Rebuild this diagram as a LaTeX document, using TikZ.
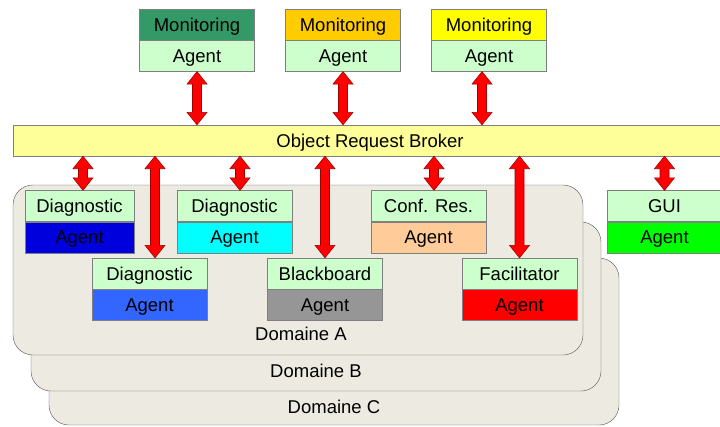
\documentclass[tikz,border=0pt]{standalone}
\usepackage{fontspec}
\setmainfont{Liberation Sans}
\usepackage{xcolor}
\usetikzlibrary{calc}

\definecolor{boxgray}{HTML}{7F7F7F}
\definecolor{lightgreen}{HTML}{CCFFCC}
\definecolor{monteal}{HTML}{339966}
\definecolor{monorange}{HTML}{FFCC00}
\definecolor{monyellow}{HTML}{FFFF00}
\definecolor{diagdark}{HTML}{0000DD}
\definecolor{diagcyan}{HTML}{00FFFF}
\definecolor{diagblue}{HTML}{3366FF}
\definecolor{boardgray}{HTML}{969696}
\definecolor{confpeach}{HTML}{FFCC99}
\definecolor{facilred}{HTML}{FF0000}
\definecolor{guigreen}{HTML}{00FF00}
\definecolor{orbyellow}{HTML}{FFFF99}
\definecolor{domainfill}{HTML}{EDEBE1}
\definecolor{domainline}{HTML}{555555}
\definecolor{arrowline}{HTML}{A00000}

\tikzset{
    hdr/.style={draw=boxgray, fill=lightgreen, minimum width=115, minimum height=31,
        inner sep=0pt, text height=13pt, text depth=0pt, font=\fontsize{18.5}{22}\selectfont},
    agt/.style={hdr, fill=#1, anchor=north},
    broker/.style={hdr, fill=orbyellow, minimum width=714},
    domainpanel/.style={draw=domainline, fill=domainfill, rounded corners=20},
    domlabel/.style={text height=13pt, text depth=0pt, font=\fontsize{18.5}{22}\selectfont},
    orbarrowstyle/.style={draw=arrowline, fill=red, line width=0.6pt, line join=miter}
}

% block arrow with two heads, #1 = end at the agent, #2 = end at the broker
\newcommand\orbarrow[2]{%
    \path (#1) coordinate (aa) (#2 -| aa) coordinate (bb);
    \filldraw[orbarrowstyle] (aa) -- ($(aa)!12.5pt!(bb)+(10,0)$) -- ($(aa)!12.5pt!(bb)+(4.5,0)$)
        -- ($(bb)!12.5pt!(aa)+(4.5,0)$) -- ($(bb)!12.5pt!(aa)+(10,0)$) -- (bb)
        -- ($(bb)!12.5pt!(aa)+(-10,0)$) -- ($(bb)!12.5pt!(aa)+(-4.5,0)$)
        -- ($(aa)!12.5pt!(bb)+(-4.5,0)$) -- ($(aa)!12.5pt!(bb)+(-10,0)$) -- cycle;}

\begin{document}
\begin{tikzpicture}[x=1pt, y=-1pt]
            \useasboundingbox (0,0) rectangle (720,426);
            \clip (0,0) rectangle (720,426);

            \begin{scope}
                \filldraw[domainpanel] (49,258) rectangle (619,425);
                \filldraw[domainpanel] (31,222) rectangle (601,391);
                \filldraw[domainpanel] (13,185) rectangle (583,355);
            \end{scope}
            \node[domlabel] (domA) at (301,334) {Domaine A};
            \node[domlabel] (domB) at (316,371) {Domaine B};
            \node[domlabel] (domC) at (334,407) {Domaine C};

            \node[broker] (orb) at (370,140.5) {Object Request Broker};

            \node[hdr, fill=monteal] (mon1h) at (197,24.5) {Monitoring};
            \node[agt=lightgreen] (mon1a) at (mon1h.south) {Agent};
            \node[hdr, fill=monorange] (mon2h) at (343,24.5) {Monitoring};
            \node[agt=lightgreen] (mon2a) at (mon2h.south) {Agent};
            \node[hdr, fill=monyellow] (mon3h) at (489,24.5) {Monitoring};
            \node[agt=lightgreen] (mon3a) at (mon3h.south) {Agent};

            \node[hdr, minimum width=109] (d1h) at (79.5,206) {Diagnostic};
            \node[agt=diagdark, minimum width=109] (d1a) at (d1h.south) {Agent};
            \node[hdr] (d2h) at (234.5,206) {Diagnostic};
            \node[agt=diagcyan] (d2a) at (d2h.south) {Agent};
            \node[hdr] (confh) at (428.5,206) {Conf. Res.};
            \node[agt=confpeach] (confa) at (confh.south) {Agent};
            \node[hdr] (guih) at (664.5,206) {GUI};
            \node[agt=guigreen] (guia) at (guih.south) {Agent};

            \node[hdr] (d3h) at (149.5,273.5) {Diagnostic};
            \node[agt=diagblue] (d3a) at (d3h.south) {Agent};
            \node[hdr] (bbh) at (325,273.5) {Blackboard};
            \node[agt=boardgray] (bba) at (bbh.south) {Agent};
            \node[hdr] (fach) at (519.5,273.5) {Facilitator};
            \node[agt=facilred] (faca) at (fach.south) {Agent};

            \orbarrow{mon1a.south}{orb.north}
            \orbarrow{mon2a.south}{orb.north}
            \orbarrow{[xshift=-7]mon3a.south}{orb.north}

            \orbarrow{[xshift=3.5]d1h.north}{orb.south}
            \orbarrow{[xshift=5.5]d3h.north}{orb.south}
            \orbarrow{[xshift=5.5]d2h.north}{orb.south}
            \orbarrow{bbh.north}{orb.south}
            \orbarrow{[xshift=5.5]confh.north}{orb.south}
            \orbarrow{fach.north}{orb.south}
            \orbarrow{guih.north}{orb.south}
        \end{tikzpicture}
\end{document}
